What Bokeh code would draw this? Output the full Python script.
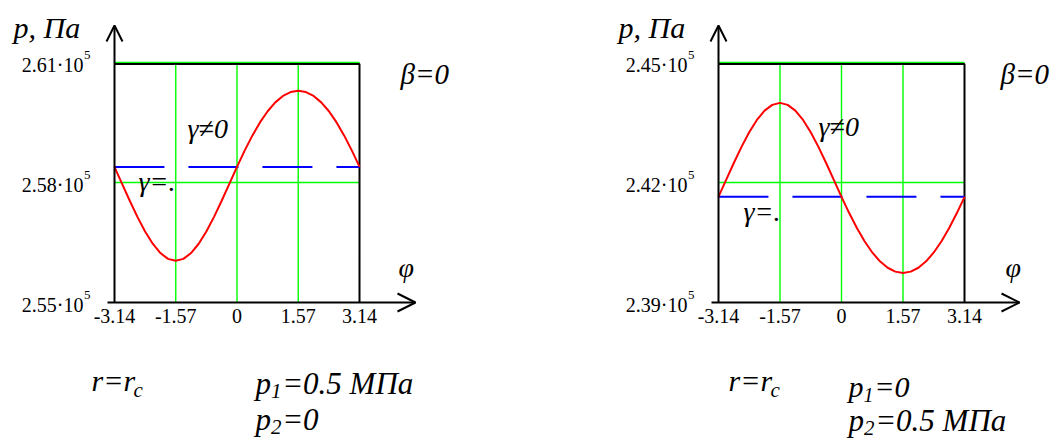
from bokeh.plotting import figure
from bokeh.layouts import row
from bokeh.models import Range1d, Arrow, OpenHead
from bokeh.core.properties import value
from bokeh.embed import file_html
from bokeh.resources import INLINE

# angle phi, rad
phi = [-3.1416, -2.9452, -2.7489, -2.5525, -2.3562, -2.1598, -1.9635, -1.7671,
       -1.5708, -1.3744, -1.1781, -0.9817, -0.7854, -0.5890, -0.3927, -0.1963,
       0.0, 0.1963, 0.3927, 0.5890, 0.7854, 0.9817, 1.1781, 1.3744,
       1.5708, 1.7671, 1.9635, 2.1598, 2.3562, 2.5525, 2.7489, 2.9452, 3.1416]

# case 1: p1 = 0.5 MPa, p2 = 0 -- pressure at r = rc, Pa (gamma != 0)
p_case1 = [258390, 257967, 257544, 257141, 256776, 256469, 256236, 256091,
           256042, 256091, 256236, 256469, 256776, 257141, 257544, 257967,
           258390, 258796, 259171, 259502, 259781, 260003, 260163, 260260,
           260292, 260260, 260163, 260003, 259781, 259502, 259171, 258796, 258390]
p_case1_uniform = 258390  # gamma = 0

# case 2: p1 = 0, p2 = 0.5 MPa
p_case2 = [241642, 242065, 242488, 242891, 243256, 243563, 243796, 243941,
           243990, 243941, 243796, 243563, 243256, 242891, 242488, 242065,
           241642, 241236, 240861, 240530, 240251, 240029, 239869, 239772,
           239740, 239772, 239869, 240029, 240251, 240530, 240861, 241236, 241642]
p_case2_uniform = 241642

phi_ticks = [-3.14, -1.57, 0, 1.57, 3.14]
phi_tick_labels = ["-3.14", "-1.57", "0", "1.57", "3.14"]
p_ticks_case1 = [255000, 258000, 261000]
p_tick_mantissas_case1 = ["2.55·10", "2.58·10", "2.61·10"]
p_ticks_case2 = [239000, 242000, 245000]
p_tick_mantissas_case2 = ["2.39·10", "2.42·10", "2.45·10"]
p_tick_power = "5"

W, H = 530, 441
BOX_TOP, BOX_BOTTOM = 62, 302
SERIF = "Liberation Serif"
GRID_GREEN = "#00ff00"
MID = 0.3375  # em-box middle above the baseline, in em


def panel(p, p_uniform, p_ticks, p_mantissas, box_left, box_right, notes):
    x0, x1 = phi_ticks[0], phi_ticks[-1]
    y0, y1 = p_ticks[0], p_ticks[-1]
    kx = (x1 - x0) / (box_right - box_left)
    ky = (y1 - y0) / (BOX_BOTTOM - BOX_TOP)

    fig = figure(width=W, height=H,
                 x_range=Range1d(x0 - box_left * kx, x1 + (W - box_right) * kx),
                 y_range=Range1d(y0 - (H - BOX_BOTTOM) * ky, y1 + BOX_TOP * ky),
                 x_axis_location=None, y_axis_location=None,
                 output_backend="svg", toolbar_location=None, min_border=0)
    fig.grid.visible = False
    fig.outline_line_color = None
    fig.background_fill_color = "white"
    fig.border_fill_color = "white"

    # pixel position in the panel -> data coordinates (for annotations)
    def dx(px):
        return x0 + (px - box_left) * kx

    def dy(py):
        return y1 - (py - BOX_TOP) * ky

    # grid lines inside the box
    vx = phi_ticks[1:-1]
    fig.segment(x0=vx, y0=[y0] * len(vx), x1=vx, y1=[y1] * len(vx),
                line_color=GRID_GREEN, line_width=1.4)
    hy = p_ticks[1:]
    fig.segment(x0=[x0] * len(hy), y0=hy, x1=[x1] * len(hy), y1=hy,
                line_color=GRID_GREEN, line_width=1.5)

    # box: top and right edges (left and bottom are the axes)
    top_edge = dy(BOX_TOP + 1.5)
    fig.line([x0, x1, x1], [top_edge, top_edge, y0], line_color="black", line_width=2)

    fig.line([phi[0], phi[-1]], [p_uniform, p_uniform], line_color="#0000ff",
             line_width=2, line_dash="50 24")
    fig.line(phi, p, line_color="#ff0000", line_width=2)

    # axes with arrows
    fig.add_layout(Arrow(end=OpenHead(size=16, line_width=2, line_color="black"),
                         x_start=x0, y_start=y0, x_end=x0, y_end=dy(25),
                         line_width=2, line_color="black"))
    fig.add_layout(Arrow(end=OpenHead(size=18, line_width=2, line_color="black"),
                         x_start=dx(box_left - 7), y_start=y0,
                         x_end=dx(box_left + 301), y_end=y0,
                         line_width=2, line_color="black"))

    # tick labels
    fig.text(x=phi_ticks, y=[y0] * len(phi_ticks), text=phi_tick_labels,
             text_font=value(SERIF), text_font_size="20px", text_color="black",
             text_align="center", text_baseline="top", y_offset=6)
    fig.text(x=[x0] * len(p_ticks), y=p_ticks, text=p_mantissas,
             text_font=value(SERIF), text_font_size="20px", text_color="black",
             text_align="right", text_baseline="middle", x_offset=-31, y_offset=2)
    fig.text(x=[x0] * len(p_ticks), y=p_ticks, text=[p_tick_power] * len(p_ticks),
             text_font=value(SERIF), text_font_size="13px", text_color="black",
             text_align="right", text_baseline="middle", x_offset=-24, y_offset=-8)

    # italic note whose baseline sits at pixel row py
    def text(t, px, py, size):
        fig.text(x=[dx(px)], y=[dy(py - MID * size)], text=[t], text_font=value(SERIF),
                 text_font_style="italic", text_font_size=f"{size}px",
                 text_color="black", text_baseline="middle", text_align="left")

    text("p, Па", notes["axis"][0], notes["axis"][1], 30)
    text("β=0", notes["beta"][0], notes["beta"][1], 29)
    text("φ", notes["phi"][0], notes["phi"][1], 28)
    text("γ≠0", notes["gamma"][0], notes["gamma"][1], 28)
    text("γ=.", notes["uniform"][0], notes["uniform"][1], 28)

    # r = r_c
    rx, ry = notes["rc"]
    text("r=r", rx, ry, 30)
    text("c", rx + 42, ry + 7, 21)

    # p1 / p2 lines: subscript, remainder, position, size
    for sub, rest, (px, py), size in notes["loads"]:
        text("p", px, py, size)
        text(sub, px + 0.5 * size, py + 5, round(size * 0.68))
        text(rest, px + 0.86 * size, py, size)
    return fig


left_panel = panel(p_case1, p_case1_uniform, p_ticks_case1, p_tick_mantissas_case1, 114, 359,
                   dict(axis=(13, 37), beta=(400, 83), phi=(398, 276), gamma=(187, 137),
                        uniform=(138, 190), rc=(91, 390),
                        loads=[("1", "=0.5 МПа", (255, 393), 31),
                               ("2", "=0", (255, 429), 31)]))
right_panel = panel(p_case2, p_case2_uniform, p_ticks_case2, p_tick_mantissas_case2, 188, 434,
                    dict(axis=(88, 37), beta=(470, 83), phi=(475, 276), gamma=(288, 135),
                         uniform=(213, 220), rc=(198, 390),
                         loads=[("1", "=0", (318, 396), 30),
                                ("2", "=0.5 МПа", (318, 430), 31)]))

layout = row(left_panel, right_panel)
open("out.html", "w").write(file_html(layout, INLINE))
